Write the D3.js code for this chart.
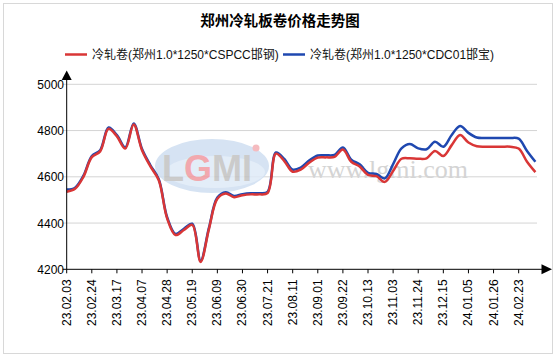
<!DOCTYPE html>
<html>
<head>
<meta charset="utf-8">
<script src="https://cdn.jsdelivr.net/npm/d3@7"></script>
<style>
  body { margin: 0; background: #fff; }
  svg { display: block; }
</style>
</head>
<body>
<div id="chart"></div>
<script>
// weekly readings, index 0 = 23.02.03
const tickLabels = ['23.02.03', '23.02.24', '23.03.17', '23.04.07', '23.04.28', '23.05.19', '23.06.09',
    '23.06.30', '23.07.21', '23.08.11', '23.09.01', '23.09.22', '23.10.13', '23.11.03', '23.11.24',
    '23.12.15', '24.01.05', '24.01.26', '24.02.23'];
const yTicks = [4200, 4400, 4600, 4800, 5000];

const seriesNames = ['冷轧卷(郑州1.0*1250*CSPCC邯钢)', '冷轧卷(郑州1.0*1250*CDC01邯宝)'];

const redValues = [4535, 4548, 4600, 4685, 4710, 4808, 4775, 4722, 4826, 4715,
    4645, 4585, 4420, 4348, 4370, 4392, 4232, 4375, 4505, 4528,
    4512, 4520, 4524, 4524, 4530, 4700, 4668, 4622, 4632, 4662,
    4683, 4684, 4686, 4718, 4665, 4645, 4608, 4603, 4578, 4625,
    4678, 4680, 4678, 4680, 4712, 4690, 4737, 4781, 4748, 4732,
    4730, 4730, 4730, 4730, 4722, 4665, 4620];

const blueValues = [4545, 4553, 4605, 4690, 4715, 4813, 4780, 4727, 4831, 4720,
    4650, 4590, 4425, 4353, 4375, 4397, 4237, 4380, 4510, 4533,
    4517, 4525, 4529, 4529, 4535, 4705, 4677, 4631, 4641, 4671,
    4692, 4693, 4695, 4727, 4674, 4654, 4617, 4612, 4593, 4655,
    4723, 4742, 4723, 4719, 4752, 4730, 4781, 4820, 4790, 4770,
    4768, 4768, 4768, 4768, 4765, 4712, 4665];

const width = 556, height = 357;
const plotLeft = 66.7, plotRight = 535.4, gridRight = 537;
const plotTop = 84.3, plotBottom = 269.3;

const svg = d3.select('#chart').append('svg')
    .attr('width', width)
    .attr('height', height);

// outer frame
svg.append('rect')
    .attr('x', 3.5).attr('y', 3.5)
    .attr('width', 549).attr('height', 350)
    .attr('fill', '#fff')
    .attr('stroke', '#d8d8d8');

const x = d3.scaleLinear([0, redValues.length - 1], [plotLeft, plotRight]);
const y = d3.scaleLinear([4200, 5000], [plotBottom, plotTop]);

// title
svg.append('text')
    .attr('x', 280).attr('y', 26)
    .attr('text-anchor', 'middle')
    .attr('font-family', '"Noto Sans CJK SC", sans-serif')
    .attr('font-weight', 'bold')
    .attr('font-size', 14.5)
    .text('郑州冷轧板卷价格走势图');

// legend
const legendItems = [
    {name: seriesNames[0], color: '#d93636', x: 65},
    {name: seriesNames[1], color: '#1f48b0', x: 283}
];
const legend = svg.append('g').selectAll('g')
    .data(legendItems)
    .join('g')
    .attr('transform', (d) => `translate(${d.x},54.5)`);
legend.append('line')
    .attr('x1', 0).attr('x2', 22)
    .attr('stroke', (d) => d.color)
    .attr('stroke-width', 2.5);
legend.append('text')
    .attr('x', 27).attr('y', 4.5)
    .attr('font-family', '"Liberation Sans", "Noto Sans CJK SC", sans-serif')
    .attr('font-size', 12)
    .attr('fill', '#111')
    .text((d) => d.name);

// grid
svg.append('g').selectAll('line')
    .data(yTicks.slice(1))
    .join('line')
    .attr('x1', plotLeft - 4).attr('x2', gridRight)
    .attr('y1', (d) => y(d)).attr('y2', (d) => y(d))
    .attr('stroke', '#d4d4d4');

// watermark logo
const logo = svg.append('g').attr('opacity', 0.85);
logo.append('ellipse')
    .attr('cx', 212).attr('cy', 166)
    .attr('rx', 57).attr('ry', 27)
    .attr('fill', '#cfdff2');
logo.append('ellipse')
    .attr('cx', 215).attr('cy', 172)
    .attr('rx', 50).attr('ry', 16)
    .attr('fill', '#dfeaf7');
const logoText = logo.append('text')
    .attr('x', 162).attr('y', 181)
    .attr('font-family', '"Liberation Sans", Arial, sans-serif')
    .attr('font-weight', 'bold')
    .attr('font-size', 36)
    .attr('fill', '#c2c2c2');
logoText.append('tspan').text('L');
logoText.append('tspan').attr('fill', '#f09aa0').text('G');
logoText.append('tspan').text('MI');
logo.append('circle')
    .attr('cx', 256).attr('cy', 148).attr('r', 3.5)
    .attr('fill', '#f4b0b4');

svg.append('text')
    .attr('x', 388).attr('y', 178)
    .attr('text-anchor', 'middle')
    .attr('font-family', '"Liberation Serif", "Times New Roman", serif')
    .attr('font-size', 26)
    .attr('fill', '#d4d4d4')
    .text('www.lgmi.com');

// y ticks and labels
const yAxis = svg.append('g');
yAxis.selectAll('text')
    .data(yTicks)
    .join('text')
    .attr('x', 64).attr('y', (d) => y(d) + 4.5)
    .attr('text-anchor', 'end')
    .attr('font-family', '"Liberation Sans", Arial, sans-serif')
    .attr('font-size', 12)
    .attr('fill', '#000')
    .text((d) => d);

// x ticks and labels
const tickIdx = tickLabels.map((d, i) => i * 3);
const xAxis = svg.append('g');
xAxis.selectAll('line')
    .data(tickIdx)
    .join('line')
    .attr('x1', (d) => x(d)).attr('x2', (d) => x(d))
    .attr('y1', plotBottom).attr('y2', plotBottom + 4)
    .attr('stroke', '#000');
xAxis.selectAll('text')
    .data(tickLabels)
    .join('text')
    .attr('transform', (d, i) => `translate(${x(tickIdx[i]) + 4},${plotBottom + 10}) rotate(-90)`)
    .attr('text-anchor', 'end')
    .attr('font-family', '"Liberation Sans", Arial, sans-serif')
    .attr('font-size', 12)
    .attr('fill', '#000')
    .text((d) => d);

// series lines
const line = d3.line()
    .x((d, i) => x(i))
    .y((d) => y(d))
    .curve(d3.curveCatmullRom.alpha(0.5));

svg.append('path')
    .datum(blueValues)
    .attr('d', line)
    .attr('fill', 'none')
    .attr('stroke', '#1f48b0')
    .attr('stroke-width', 2.5);
svg.append('path')
    .datum(redValues)
    .attr('d', line)
    .attr('fill', 'none')
    .attr('stroke', '#d93636')
    .attr('stroke-width', 2.5);

// axis lines with arrows
svg.append('line')
    .attr('x1', plotLeft).attr('x2', plotLeft)
    .attr('y1', plotBottom).attr('y2', 78)
    .attr('stroke', '#000');
svg.append('path')
    .attr('d', `M${plotLeft},70.5 L${plotLeft - 5},80 L${plotLeft + 5},80 Z`)
    .attr('fill', '#000');
svg.append('line')
    .attr('x1', plotLeft - 4).attr('x2', 545)
    .attr('y1', plotBottom).attr('y2', plotBottom)
    .attr('stroke', '#000');
svg.append('path')
    .attr('d', `M552,${plotBottom} L541.5,${plotBottom - 5} L541.5,${plotBottom + 5} Z`)
    .attr('fill', '#000');
</script>
</body>
</html>
